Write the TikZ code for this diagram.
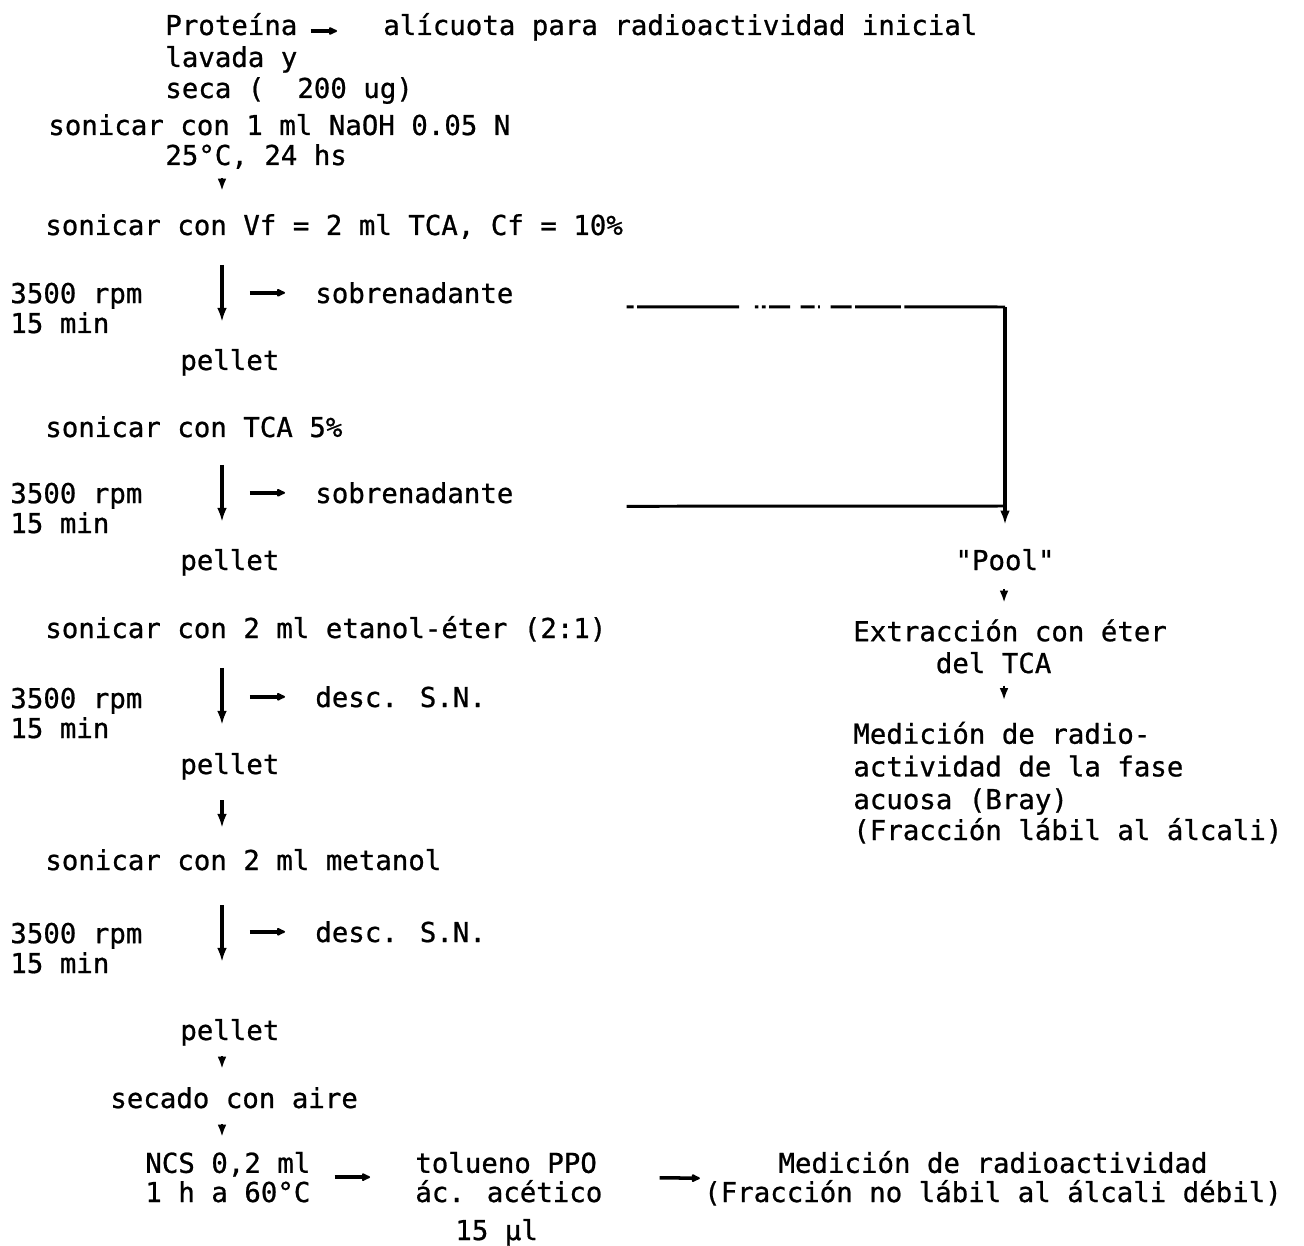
\documentclass[tikz,border=0pt]{standalone}
\usepackage{fontspec}
\newfontfamily\tw[FakeBold=0.8]{DejaVu Sans Mono}
\usetikzlibrary{arrows.meta}

\begin{document}
\begin{tikzpicture}[
    x=0.02cm, y=-0.02cm,
    every node/.style={font=\tw\fontsize{15.6}{17.6}\selectfont},
    txt/.style={
        inner sep=0pt,
        anchor=base west,
        align=left
    },
    flow/.style={line width=1.8pt, -{Latex[length=8pt,width=5.5pt]}},
    side/.style={line width=2pt, -{Latex[length=6pt,width=5.5pt,round]}},
    tick/.style={line width=1.5pt, -{Latex[length=7pt,width=5pt]}},
    link/.style={line width=1.7pt}
]
\useasboundingbox (0,0) rectangle (1304,1246);

% Columns for the arrows
\coordinate (col) at (222,0);
\coordinate (rcol) at (1004,0);

% Start
\node[txt] (prot) at (165,35) {Proteína};
\node[txt] (alic) at (383,35) {alícuota para radioactividad inicial};
\node[txt] (lavada) at (165,67) {lavada y};
\node[txt] (seca) at (165,98) {seca (\ \ 200 ug)};
\node[txt] (son1) at (48,135) {sonicar con 1 ml NaOH 0.05 N};
\node[txt] (temp) at (165,165) {25°C, 24 hs};

% First TCA step
\node[txt] (son2) at (45,235) {sonicar con Vf = 2 ml TCA, Cf = 10\%};
\node[txt] (rpm1) at (10,333) {3500 rpm\\[-0.6pt]15 min};
\node[txt] (sob1) at (315,303) {sobrenadante};
\node[txt] (pel1) at (180,370) {pellet};

% Second TCA step
\node[txt] (son3) at (45,437) {sonicar con TCA 5\%};
\node[txt] (rpm2) at (10,533) {3500 rpm\\[-0.6pt]15 min};
\node[txt] (sob2) at (315,503) {sobrenadante};
\node[txt] (pel2) at (180,570) {pellet};

% Ethanol-ether step
\node[txt] (son4) at (45,638) {sonicar con 2 ml etanol-éter (2:1)};
\node[txt] (rpm3) at (10,738) {3500 rpm\\[-0.6pt]15 min};
\node[txt] (desc1) at (315,707) {desc. S.N.};
\node[txt] (pel3) at (180,774) {pellet};

% Methanol step
\node[txt] (son5) at (45,870) {sonicar con 2 ml metanol};
\node[txt] (rpm4) at (10,973) {3500 rpm\\[-0.6pt]15 min};
\node[txt] (desc2) at (315,942) {desc. S.N.};
\node[txt] (pel4) at (180,1040) {pellet};

% Drying and counting
\node[txt] (sec) at (110,1108) {secado con aire};
\node[txt] (ncs) at (145,1202) {NCS 0,2 ml\\[-1pt]1 h a 60°C};
\node[txt] (tol) at (415,1202) {tolueno PPO\\[-1pt]ác. acético};
\node[txt] (mul) at (455,1240) {15 µl};
\node[inner sep=0pt, anchor=base, align=center] (med2) at (993,1202)
    {Medición de radioactividad\\[-1pt](Fracción no lábil al álcali débil)};

% Pool branch
\node[inner sep=0pt, anchor=base] (pool) at (1005,570) {"Pool"};
\node[txt] (ext) at (853,673) {Extracción con éter\\[0.5pt]\phantom{xxxxx}del TCA};
\node[txt] (med1) at (853,840)
    {Medición de radio-\\[1pt]actividad de la fase\\[1pt]acuosa (Bray)\\[0pt](Fracción lábil al álcali)};

% Main column arrows
\draw[side, shorten <=0.26cm, shorten >=0.92cm] ([yshift=0.08cm]prot.base east) -- ([yshift=0.08cm]alic.base west);
\draw[tick, shorten <=0.26cm, shorten >=0.88cm] (temp.base -| col) -- (son2.base -| col);

\draw[flow, shorten <=0.6cm, shorten >=0.96cm] (son2.base -| col) -- (pel1.base -| col);
\draw[flow, shorten <=0.56cm, shorten >=0.96cm] (son3.base -| col) -- (pel2.base -| col);
\draw[flow, shorten <=0.6cm, shorten >=0.98cm] (son4.base -| col) -- (pel3.base -| col);
\draw[flow, shorten <=0.52cm, shorten >=0.84cm] (pel3.base -| col) -- (son5.base -| col);
\draw[flow, shorten <=0.7cm, shorten >=1.56cm] (son5.base -| col) -- (pel4.base -| col);

\draw[side, shorten <=0.56cm, shorten >=0.6cm] (sob1.west -| col) -- (sob1.west);
\draw[side, shorten <=0.56cm, shorten >=0.6cm] (sob2.west -| col) -- (sob2.west);
\draw[side, shorten <=0.56cm, shorten >=0.6cm] (desc1.west -| col) -- (desc1.west);
\draw[side, shorten <=0.56cm, shorten >=0.6cm] (desc2.west -| col) -- (desc2.west);

\draw[tick, shorten <=0.32cm, shorten >=0.78cm] (pel4.base -| col) -- (sec.base -| col);
\draw[tick, shorten <=0.32cm, shorten >=1.3cm] (sec.base -| col) -- (ncs.base -| col);

\draw[side, shorten <=0.48cm, shorten >=0.9cm] (ncs.east) -- (tol.west);
\draw[side, shorten <=1.14cm, shorten >=0.08cm] (tol.east) -- (med2.west);

% Supernatants to the pool
\coordinate (ptop) at (pool.north |- 0,307);
\coordinate (pjoin) at (pool.north |- 0,506);
\draw[link, dash pattern=on 4pt off 2pt on 58pt off 9pt on 2pt off 2pt on 2pt off 2pt on 12pt off 6pt on 8pt off 2pt on 1pt off 6pt on 12pt off 2pt on 26pt off 2pt on 200pt]
    ([xshift=2.26cm,yshift=-0.28cm]sob1.east) -- (ptop);
\draw[link] ([xshift=2.26cm,yshift=-0.27cm]sob2.east) -- (pjoin);
\draw[flow, shorten >=0.48cm] (ptop) -- (pool.north);

% Pool column arrows
\draw[tick, shorten <=0.38cm, shorten >=0.32cm] (pool.base -| rcol) -- (ext.north -| rcol);
\draw[tick, shorten <=0.24cm, shorten >=0.42cm] (ext.south -| rcol) -- (med1.north -| rcol);

\end{tikzpicture}
\end{document}
